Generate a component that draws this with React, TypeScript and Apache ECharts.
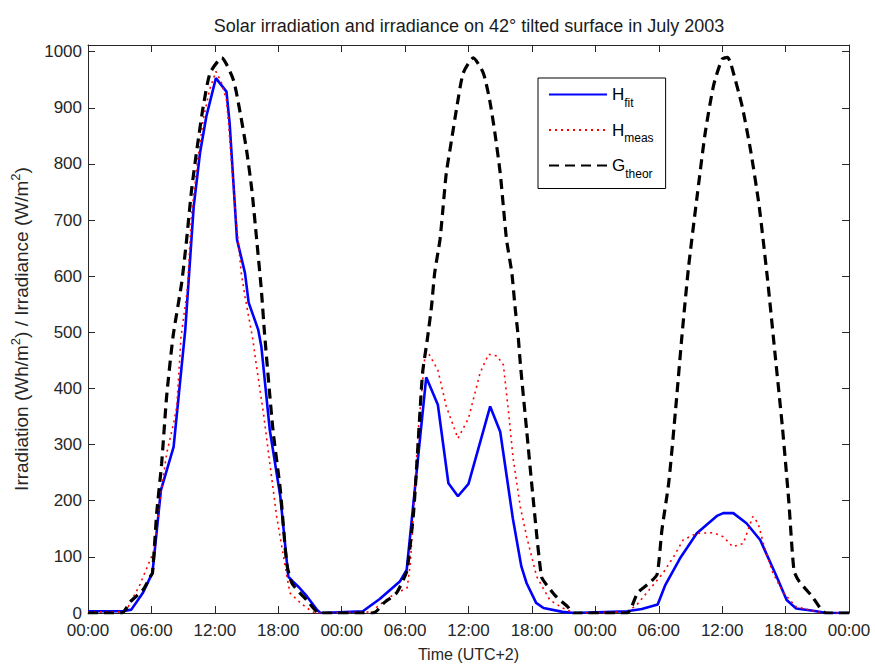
import React, { useEffect, useRef } from 'react';
import * as echarts from 'echarts';

const TITLE = 'Solar irradiation and irradiance on 42° tilted surface in July 2003';
const X_NAME = 'Time (UTC+2)';
const TICK_LABELS = ['00:00', '06:00', '12:00', '18:00'];
const SERIES_NAMES = ['H_fit', 'H_meas', 'G_theor'];

// H_fit (blue, solid) – time in hours since start, value in Wh/m2
const fitTime = [
  0, 3.3, 4.1, 5.2, 6.1, 6.9, 8.1, 9.2, 10.0, 10.6, 11.2, 12.1, 13.1, 13.4, 14.1, 14.85, 15.2, 16.1, 16.4, 17.2, 18.2, 18.95, 19.4, 20.0, 20.7, 21.7, 22.0,
  26.0, 27.6, 29.5, 30.15, 32.0, 33.1, 34.1, 35.0, 36.0, 38.05, 39.0, 40.2, 41.0, 41.5, 42.4, 43.1, 44.9, 46.0,
  51.0, 52.4, 53.9, 54.6, 56.0, 57.6, 59.5, 60.1, 61.05, 62.3, 63.6, 65.15, 66.1, 67.0, 68.6, 69.9, 72.0,
];
const fitValue = [
  3, 3, 6, 36, 72, 219, 296, 504, 724, 820, 885, 953, 929, 873, 665, 606, 553, 505, 475, 326, 207, 65, 56, 45, 30, 5, 0,
  3, 25, 56, 77, 420, 371, 231, 208, 230, 368, 323, 168, 83, 53, 18, 9, 2, 0,
  3, 7, 15, 49, 97, 142, 173, 178, 178, 160, 130, 65, 23, 8, 4, 0, 0,
];

// H_meas (red, dotted)
const measTime = [
  0, 3.3, 3.8, 4.9, 6.2, 6.5, 6.8, 7.45, 8.1, 8.4, 8.8, 9.4, 9.8, 10.35, 10.9, 11.5, 12.1, 12.65, 13.1, 13.3, 13.6, 13.9, 14.2, 14.5, 14.85, 15.2, 15.6, 15.9, 16.6, 17.2, 17.85, 18.6, 19.1, 20.1, 21.0, 21.5,
  27.0, 27.3, 28.6, 30.2, 30.5, 31.25, 31.9, 32.3, 33.1, 33.9, 35.0, 36.0, 37.1, 37.9, 38.7, 39.3, 39.8, 40.2, 40.9, 41.5, 42.45, 43.7, 44.9, 46.0,
  51.0, 51.9, 54.4, 55.4, 56.3, 57.6, 59.2, 60.1, 61.0, 62.0, 62.9, 63.4, 63.9, 64.8, 65.8, 67.0, 68.6, 69.5, 72.0,
];
const measValue = [
  2, 2, 11, 50, 109, 154, 201, 285, 338, 368, 492, 576, 712, 802, 879, 932, 965, 944, 914, 873, 796, 724, 665, 606, 564, 528, 487, 445, 356, 267, 172, 89, 36, 18, 5, 0,
  2, 10, 29, 45, 89, 326, 463, 460, 433, 368, 311, 347, 428, 461, 458, 442, 356, 279, 189, 136, 65, 23, 9, 0,
  2, 14, 71, 100, 130, 142, 143, 136, 118, 124, 172, 160, 124, 71, 36, 11, 4, 0, 0,
];

// G_theor (black, dashed)
const theorTime = [
  0, 3.2, 4.0, 5.2, 5.9, 6.1, 6.5, 6.97, 7.44, 8.05, 8.86, 9.33, 9.8, 10.34, 10.9, 11.55, 12.65, 13.75, 14.4, 15.0, 15.5, 15.96, 16.4, 16.7, 17.5, 18.2, 18.8, 19.3, 20.7, 21.9,
  27.0, 28.0, 29.2, 29.9, 30.2, 30.8, 31.25, 31.65, 32.1, 32.5, 32.8, 33.3, 33.6, 33.9, 34.4, 34.9, 35.5, 36.45, 37.4, 38.0, 38.5, 39.0, 39.3, 39.6, 40.1, 40.4, 40.7, 40.9, 41.5, 42.1, 42.9, 43.4, 44.3, 45.4, 45.9,
  51.0, 52.0, 53.2, 53.85, 54.3, 54.95, 55.6, 56.2, 56.8, 57.6, 58.4, 59.2, 60.0, 60.5, 60.8, 61.9, 62.7, 63.5, 64.3, 65.0, 65.7, 66.3, 66.8, 67.3, 68.5, 69.8, 72.0,
];
const theorValue = [
  0, 0, 20, 41, 65, 71, 178, 267, 386, 493, 588, 665, 754, 831, 902, 962, 989, 950, 891, 825, 754, 665, 576, 499, 326, 219, 89, 53, 23, 0,
  0, 18, 36, 62, 77, 178, 308, 427, 487, 546, 606, 665, 724, 784, 843, 902, 962, 989, 962, 914, 855, 784, 724, 665, 606, 546, 493, 445, 326, 207, 65, 50, 29, 11, 0,
  0, 36, 55, 69, 148, 233, 364, 495, 613, 738, 856, 941, 987, 990, 980, 902, 823, 725, 593, 462, 331, 200, 75, 56, 30, 0, 0,
];

const zip = (t: number[], v: number[]) => t.map((x, i) => [x, v[i]]);

const FONT = 'Liberation Sans, Arial, sans-serif';
const AXIS_COLOR = '#262626';

export default function App() {
  const ref = useRef<HTMLDivElement>(null);
  useEffect(() => {
    if (!ref.current) return;
    const chart = echarts.init(ref.current, undefined, { renderer: 'svg' });
    const axisLine = { show: true, onZero: false, lineStyle: { color: AXIS_COLOR, width: 1 } };
    const tick = { show: true, inside: true, length: 7, lineStyle: { color: AXIS_COLOR, width: 1 } };
    const xFormatter = (v: number) => {
      if (v % 6 !== 0) return '';
      return TICK_LABELS[((v % 24) / 6) | 0];
    };
    const yFormatter = (v: number) => (v % 100 === 0 ? String(v) : '');
    chart.setOption({
      animation: false,
      backgroundColor: '#ffffff',
      title: {
        text: TITLE,
        left: 464,
        top: 12,
        textAlign: 'center',
        textStyle: { fontFamily: FONT, fontSize: 18, fontWeight: 'normal', color: '#1a1a1a' },
      },
      grid: { left: 88, right: 26, top: 45, bottom: 56, containLabel: false },
      legend: {
        orient: 'vertical',
        left: 538,
        top: 78,
        padding: [8, 12, 9, 10],
        itemWidth: 58,
        itemHeight: 14,
        itemGap: 13,
        borderColor: '#000',
        borderWidth: 1,
        borderRadius: 0,
        backgroundColor: '#fff',
        data: SERIES_NAMES,
        itemStyle: { opacity: 0 },
        formatter: (name: string) => {
          const [m, s] = name.split('_');
          return `{m|${m}}{s|${s}}`;
        },
        textStyle: {
          fontFamily: FONT,
          color: '#000',
          rich: {
            m: { fontFamily: FONT, fontSize: 17, lineHeight: 22, color: '#000' },
            s: { fontFamily: FONT, fontSize: 12, color: '#000', verticalAlign: 'bottom', padding: [0, 0, -3, 0] },
          },
        },
      },
      xAxis: [
        {
          type: 'value', min: 0, max: 72, interval: 6, position: 'bottom',
          axisLine, axisTick: tick, splitLine: { show: false },
          axisLabel: { formatter: xFormatter, margin: 9, fontFamily: FONT, fontSize: 17, color: AXIS_COLOR },
          name: X_NAME, nameLocation: 'middle', nameGap: 33,
          nameTextStyle: { fontFamily: FONT, fontSize: 16, color: AXIS_COLOR },
        },
        {
          type: 'value', min: 0, max: 72, interval: 6, position: 'top',
          axisLine, axisTick: tick, splitLine: { show: false }, axisLabel: { show: false },
        },
      ],
      yAxis: [
        {
          type: 'value', min: 0, max: 1012, interval: 100, position: 'left',
          axisLine, axisTick: tick, splitLine: { show: false },
          axisLabel: { formatter: yFormatter, margin: 6, fontFamily: FONT, fontSize: 17, color: AXIS_COLOR, showMaxLabel: false },
          name: 'Irradiation (Wh/m{sup|2}) / Irradiance (W/m{sup|2})',
          nameLocation: 'middle', nameRotate: 90, nameGap: 54,
          nameTextStyle: {
            fontFamily: FONT, fontSize: 19, lineHeight: 24, color: AXIS_COLOR,
            rich: { sup: { fontFamily: FONT, fontSize: 13, color: AXIS_COLOR, verticalAlign: 'top' } },
          },
        },
        {
          type: 'value', min: 0, max: 1012, interval: 100, position: 'right',
          axisLine, axisTick: tick, splitLine: { show: false }, axisLabel: { show: false },
        },
      ],
      series: [
        {
          name: 'H_fit', type: 'line', data: zip(fitTime, fitValue), symbol: 'none', showSymbol: false,
          xAxisIndex: 0, yAxisIndex: 0,
          lineStyle: { color: '#0000ff', width: 2.6 }, itemStyle: { color: '#0000ff' },
        },
        {
          name: 'H_meas', type: 'line', data: zip(measTime, measValue), symbol: 'none', showSymbol: false,
          xAxisIndex: 0, yAxisIndex: 0,
          lineStyle: { color: '#ff0000', width: 1.6, type: [2, 4] }, itemStyle: { color: '#ff0000' },
        },
        {
          name: 'G_theor', type: 'line', data: zip(theorTime, theorValue), symbol: 'none', showSymbol: false,
          xAxisIndex: 0, yAxisIndex: 0, smooth: 0.2,
          lineStyle: { color: '#000000', width: 3.2, type: [10, 6] }, itemStyle: { color: '#000000' },
        },
      ],
    });
    return () => chart.dispose();
  }, []);
  return <div ref={ref} style={{ position: 'fixed', left: 0, top: 0, width: 875, height: 669, background: '#fff' }} />;
}
